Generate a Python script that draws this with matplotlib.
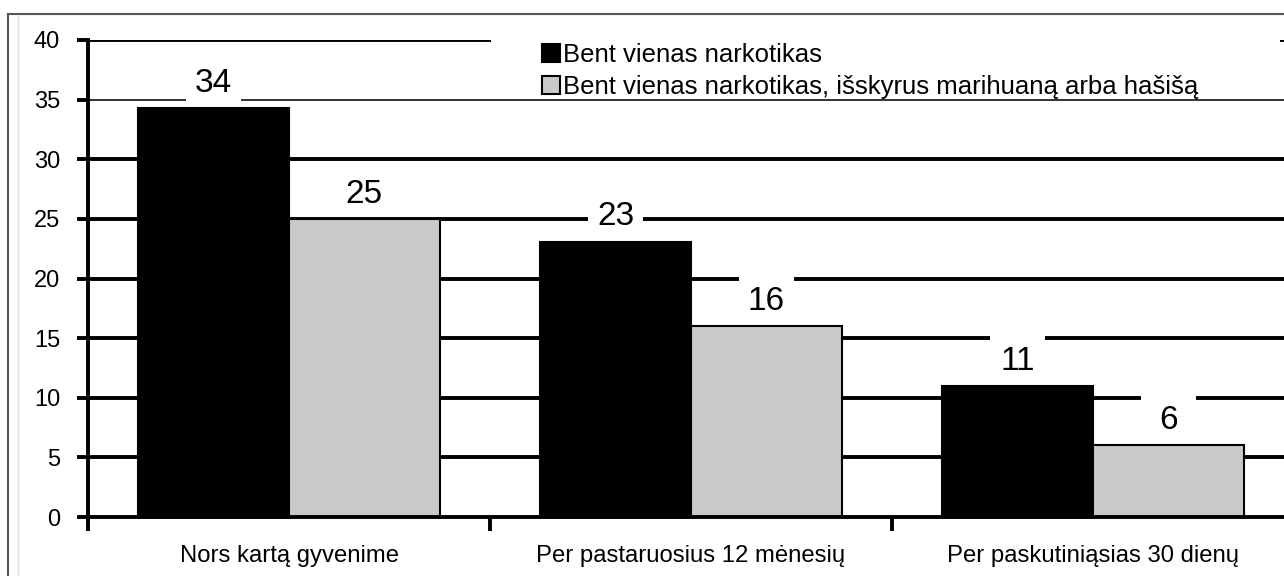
import matplotlib.pyplot as plt
from matplotlib.patches import Patch, Rectangle
from matplotlib.lines import Line2D

plt.rcParams['font.family'] = ['Liberation Sans', 'DejaVu Sans']

categories = ['Nors kartą gyvenime', 'Per pastaruosius 12 mėnesių', 'Per paskutiniąsias 30 dienų']
series_names = ['Bent vienas narkotikas', 'Bent vienas narkotikas, išskyrus marihuaną arba hašišą']
any_drug = [34.3, 23.1, 11.0]
no_cannabis = [25.0, 16.0, 6.0]
y_ticks = [0, 5, 10, 15, 20, 25, 30, 35, 40]

colors = ['#000000', '#c8c9cb']
width = 0.375

fig = plt.figure(figsize=(12.84, 5.76), dpi=100)
ax = fig.add_axes([88 / 1284, 1 - 517 / 576, (1284 - 88) / 1284, 477 / 576])

x = list(range(len(categories)))
b1 = ax.bar([i - width / 2 for i in x], any_drug, width, color=colors[0],
            edgecolor='black', linewidth=1.5, zorder=3)
b2 = ax.bar([i + width / 2 for i in x], no_cannabis, width, color=colors[1],
            edgecolor='black', linewidth=1.5, zorder=3)

# gridlines (the 35 line is thinner in the original)
for t in y_ticks[1:]:
    if t == 35:
        ax.axhline(t, color='#333333', lw=1.4, zorder=1)
    else:
        ax.axhline(t, color='black', lw=2.8, zorder=1)

# value labels sit on white patches that break the gridlines
for bars, vals in [(b1, any_drug), (b2, no_cannabis)]:
    for bar, v in zip(bars, vals):
        xc = bar.get_x() + bar.get_width() / 2
        ax.add_patch(Rectangle((xc - 0.068, v + 0.3), 0.136, 4.2, fc='white', ec='none', zorder=2.5))
        ax.text(xc, v + 1.35, str(int(round(v))), ha='center', va='baseline', fontsize=24, zorder=2.6)

ax.set_ylim(0, 40)
ax.set_xlim(-0.5, (1284 - 88) / 402 - 0.5)
ax.set_yticks(y_ticks)
ax.tick_params(axis='y', length=8, width=2.8, labelsize=17, pad=12)

ax.set_xticks([-0.5, 0.5, 1.5])
ax.set_xticklabels([])
ax.tick_params(axis='x', which='major', length=10, width=2.8)
ax.set_xticks(x, minor=True)
ax.set_xticklabels(categories, minor=True)
ax.tick_params(axis='x', which='minor', length=0, labelsize=17.2, pad=20)

for s in ['top', 'right']:
    ax.spines[s].set_visible(False)
for s in ['left', 'bottom']:
    ax.spines[s].set_linewidth(2.8)
    ax.spines[s].set_zorder(4)

# white area behind the legend
ax.add_patch(Rectangle(((490 - 88) / 1192, 0.88), (1276 - 490) / 1192, 0.14,
                       transform=ax.transAxes, fc='white', ec='none', zorder=2, clip_on=False))

handles = [Patch(fc=colors[0], ec='black', lw=1.5), Patch(fc=colors[1], ec='black', lw=1.5)]
leg = ax.legend(handles, series_names, loc='upper left', bbox_to_anchor=((540 - 88) / 1192, 0.994),
                frameon=False, fontsize=18.5, handlelength=0.7, handleheight=0.7,
                handletextpad=0.15, labelspacing=0.32, borderpad=0, borderaxespad=0)
leg.set_zorder(6)

# outer frame
fig.add_artist(Line2D([8 / 1284, 1], [1 - 14 / 576] * 2, transform=fig.transFigure, color='#555555', lw=1.5))
fig.add_artist(Line2D([8 / 1284] * 2, [0, 1 - 14 / 576], transform=fig.transFigure, color='#555555', lw=1.5))
fig.add_artist(Line2D([18 / 1284] * 2, [0, 1 - 16 / 576], transform=fig.transFigure, color='#e0e0e0', lw=1))

fig.savefig('out.png', dpi=100)
